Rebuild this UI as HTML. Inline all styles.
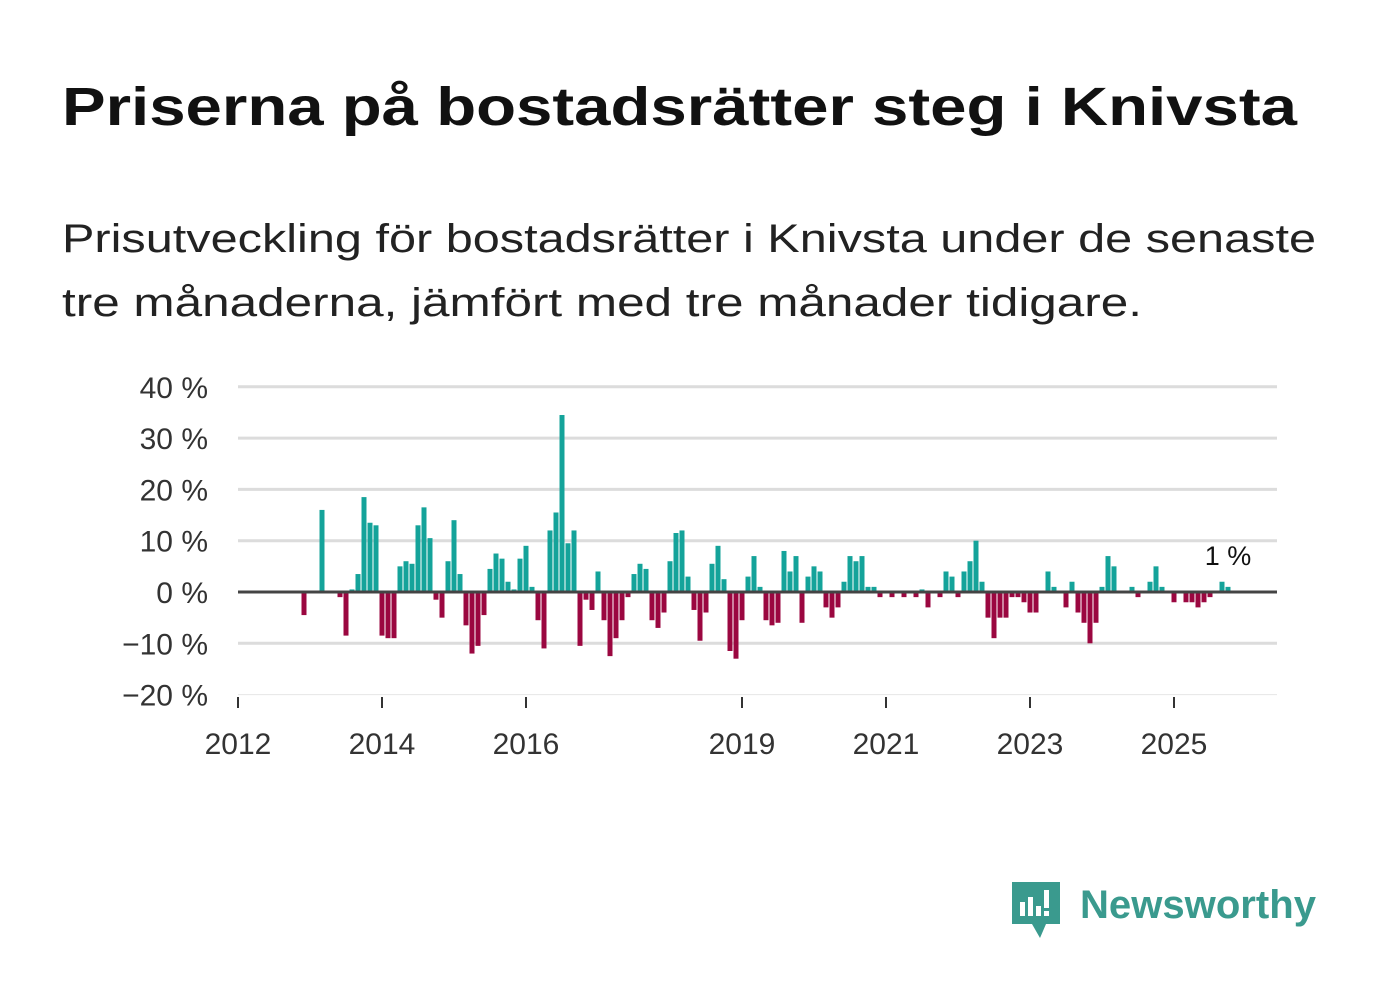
<!DOCTYPE html>
<html><head><meta charset="utf-8"><style>
html,body{margin:0;padding:0;background:#fff;}
svg text{font-family:"Liberation Sans",sans-serif;}
</style></head><body>
<svg width="1382" height="999" viewBox="0 0 1382 999" xmlns="http://www.w3.org/2000/svg">
<text x="62" y="125" font-size="54" font-weight="bold" fill="#111" textLength="1235" lengthAdjust="spacingAndGlyphs">Priserna på bostadsrätter steg i Knivsta</text>
<text x="62" y="252" font-size="40" fill="#222" textLength="1254" lengthAdjust="spacingAndGlyphs">Prisutveckling för bostadsrätter i Knivsta under de senaste</text>
<text x="62" y="316" font-size="40" fill="#222" textLength="1080" lengthAdjust="spacingAndGlyphs">tre månaderna, jämfört med tre månader tidigare.</text>
<g id="grid"></g>
<g id="bars"></g>
<g id="axes"></g>
<text x="1228" y="565" font-size="27" fill="#111" text-anchor="middle">1 %</text>
<g>
<path d="M1012 882 h48 v42 h-14 l-6 14 l-8 -14 h-20 z" fill="#3a9a8e"/>
<rect x="1020" y="902" width="5" height="14" fill="#fff"/><rect x="1028" y="897" width="5" height="19" fill="#fff"/><rect x="1036" y="906" width="5" height="10" fill="#fff"/><rect x="1044" y="890" width="5" height="18" fill="#fff"/><rect x="1044" y="911" width="5" height="5" fill="#fff"/>
<text x="1080" y="918" font-size="40" font-weight="bold" fill="#3a9a8e" textLength="236" lengthAdjust="spacingAndGlyphs">Newsworthy</text>
</g>
</svg>
<script>
const values = [0,0,0,0,0,0,0,0,0,0,0,-4.5,0,0,16,0,0,-1,-8.5,0.5,3.5,18.5,13.5,13,
-8.5,-9,-9,5,6,5.5,13,16.5,10.5,-1.5,-5,6,14,3.5,-6.5,-12,-10.5,-4.5,4.5,7.5,6.5,2,0.5,6.5,
9,1,-5.5,-11,12,15.5,34.5,9.5,12,-10.5,-1.5,-3.5,4,-5.5,-12.5,-9,-5.5,-1,3.5,5.5,4.5,-5.5,-7,-4,
6,11.5,12,3,-3.5,-9.5,-4,5.5,9,2.5,-11.5,-13,-5.5,3,7,1,-5.5,-6.5,-6,8,4,7,-6,3,
5,4,-3,-5,-3,2,7,6,7,1,1,-1,0,-1,0,-1,0,-1,0.5,-3,0,-1,4,3,
-1,4,6,10,2,-5,-9,-5,-5,-1,-1,-2,-4,-4,0,4,1,0,-3,2,-4,-6,-10,-6,
1,7,5,0,0,1,-1,0,2,5,1,0,-2,0,-2,-2,-3,-2,-1,0,2,1];
const yTicks = [40,30,20,10,0,-10,-20];
const yTickLabels = ["40 %","30 %","20 %","10 %","0 %","\u221210 %","\u221220 %"];
const xYears = [2012,2014,2016,2019,2021,2023,2025];
const startYear = 2012;
const NS="http://www.w3.org/2000/svg";
const y = v => 592 - v*5.13;
const x = yr => 238 + (yr-startYear)*72;
const xm = i => 238 + i*6;
function mk(tag, attrs, parent){const e=document.createElementNS(NS,tag);for(const k in attrs)e.setAttribute(k,attrs[k]);parent.appendChild(e);return e;}
const grid=document.getElementById('grid'), bars=document.getElementById('bars'), axes=document.getElementById('axes');
yTicks.forEach((t,k)=>{
  if(t!==0){const l=mk('line',{x1:238,x2:1277,y1:y(t),y2:y(t),stroke:t===-20?'#e6e6e6':'#dcdcdc','stroke-width':t===-20?1:3},grid);
  
  }
  const tx=mk('text',{x:208,y:y(t)+11,'font-size':30,fill:'#333','text-anchor':'end'},axes);
  tx.textContent=yTickLabels[k];
  
  
});
values.forEach((v,i)=>{
  if(v===0)return;
  const r=mk('rect',{x:xm(i)-2.5,width:5,y:v>0?y(v):y(0),height:Math.abs(v)*5.13,fill:v>0?'#14a39a':'#9b0740'},bars);
  
  
});
const zl=mk('line',{x1:238,x2:1277,y1:y(0),y2:y(0),stroke:'#444','stroke-width':3},axes);


xYears.forEach(yr=>{
  const t=mk('line',{x1:x(yr),x2:x(yr),y1:697,y2:708,stroke:'#333','stroke-width':2},axes);
  
  
  const tx=mk('text',{x:x(yr),y:754,'font-size':30,fill:'#333','text-anchor':'middle'},axes);
  tx.textContent=yr;
  
  
});
</script>
</body></html>
